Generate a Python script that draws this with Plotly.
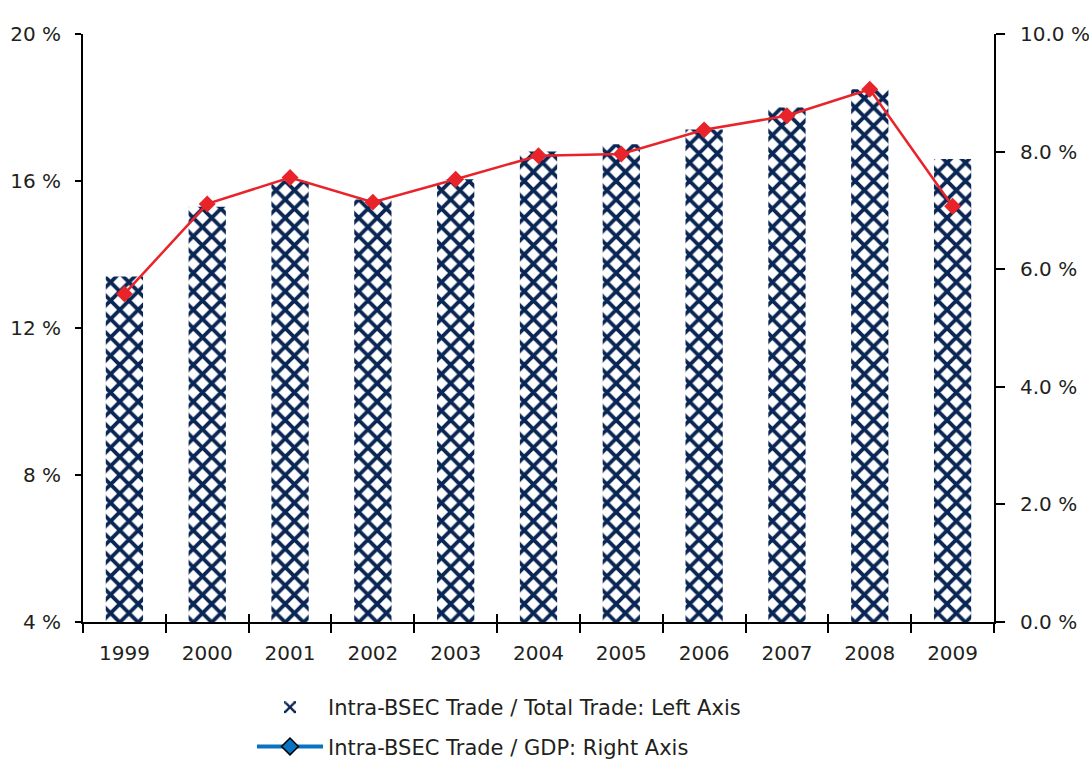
import plotly.graph_objects as go

# Data
years = ["1999", "2000", "2001", "2002", "2003", "2004", "2005", "2006", "2007", "2008", "2009"]
trade_share_total = [13.4, 15.3, 16.0, 15.5, 16.05, 16.8, 17.0, 17.4, 18.0, 18.5, 16.6]   # left axis, %
trade_share_gdp = [5.58, 7.11, 7.56, 7.14, 7.53, 7.93, 7.96, 8.37, 8.61, 9.06, 7.07]      # right axis, %
left_ticks = [4, 8, 12, 16, 20]
left_labels = ["4 %", "8 %", "12 %", "16 %", "20 %"]
right_ticks = [0, 2, 4, 6, 8, 10]
right_labels = ["0.0 %", "2.0 %", "4.0 %", "6.0 %", "8.0 %", "10.0 %"]

NAVY = "#0a2654"
RED = "#e8232a"
LEG_BLUE = "#0a72c2"
INK = "#231f20"
FONT = "DejaVu Sans"

fig = go.Figure()

fig.add_trace(go.Bar(
    x=years, y=trade_share_total,
    name="Intra-BSEC Trade / Total Trade: Left Axis",
    legendgroup="a",
    width=0.45,
    marker=dict(
        color="white",
        line=dict(width=0),
        pattern=dict(shape="x", fgcolor=NAVY, fgopacity=1, bgcolor="white",
                     size=13, solidity=0.5),
    ),
    xaxis="x", yaxis="y",
))

fig.add_trace(go.Scatter(
    x=years, y=trade_share_gdp,
    mode="lines+markers",
    line=dict(color=RED, width=2.5),
    marker=dict(symbol="diamond", size=13, color=RED),
    showlegend=False,
    xaxis="x2", yaxis="y2",
))

# legend entry for the ratio-to-GDP series
fig.add_trace(go.Scatter(
    x=[None], y=[None],
    mode="lines+markers",
    name="Intra-BSEC Trade / GDP: Right Axis",
    legendgroup="b",
    line=dict(color=LEG_BLUE, width=4),
    marker=dict(symbol="diamond", size=13, color=LEG_BLUE, line=dict(color="black", width=1.5)),
    xaxis="x2", yaxis="y2",
))

tickfont = dict(family=FONT, size=20, color=INK)
cat_common = dict(
    type="category", categoryorder="array", categoryarray=years,
    range=[-0.5, len(years) - 0.5], tickson="boundaries",
    showgrid=False, zeroline=False, tickwidth=2, tickcolor="black",
    tickangle=0,
)

fig.update_layout(
    width=1089, height=760,
    margin=dict(l=83, r=95, t=34, b=138, autoexpand=False),
    paper_bgcolor="white", plot_bgcolor="white",
    font=dict(family=FONT, color=INK),
    xaxis=dict(
        **cat_common,
        showline=True, linecolor="black", linewidth=2,
        ticks="outside", ticklen=9,
        tickfont=tickfont, ticklabelstandoff=12,
        anchor="y",
    ),
    xaxis2=dict(
        **cat_common,
        overlaying="x", side="bottom", anchor="y",
        showline=False, ticks="inside", ticklen=8, showticklabels=False,
    ),
    yaxis=dict(
        range=[4, 20], tickvals=left_ticks, ticktext=left_labels,
        showline=True, linecolor="black", linewidth=2,
        ticks="outside", ticklen=6, tickwidth=2, tickcolor="black",
        tickfont=tickfont, ticklabelstandoff=10,
        showgrid=False, zeroline=False, anchor="x",
    ),
    yaxis3=dict(
        range=[4, 20], tickvals=left_ticks[1:], overlaying="y", side="left", anchor="x",
        ticks="inside", ticklen=6, tickwidth=2, tickcolor="black",
        showticklabels=False, showline=False, showgrid=False, zeroline=False,
    ),
    yaxis2=dict(
        range=[0, 10], tickvals=right_ticks, ticktext=right_labels,
        overlaying="y", side="right", anchor="x2",
        showline=True, linecolor="black", linewidth=2,
        ticks="outside", ticklen=9, tickwidth=2, tickcolor="black",
        tickfont=tickfont, ticklabelstandoff=11,
        showgrid=False, zeroline=False,
    ),
    yaxis4=dict(
        range=[0, 10], tickvals=right_ticks, overlaying="y", side="right", anchor="x2",
        ticks="inside", ticklen=8, tickwidth=2, tickcolor="black",
        showticklabels=False, showline=False, showgrid=False, zeroline=False,
    ),
    showlegend=True,
    legend=dict(
        x=(252 - 83) / 911, y=(622 - 687) / 588, xanchor="left", yanchor="top",
        orientation="v", traceorder="grouped", tracegroupgap=9,
        itemwidth=66,
        font=dict(family=FONT, size=21, color=INK),
        bgcolor="rgba(0,0,0,0)",
    ),
)

fig.write_html("out.html")
